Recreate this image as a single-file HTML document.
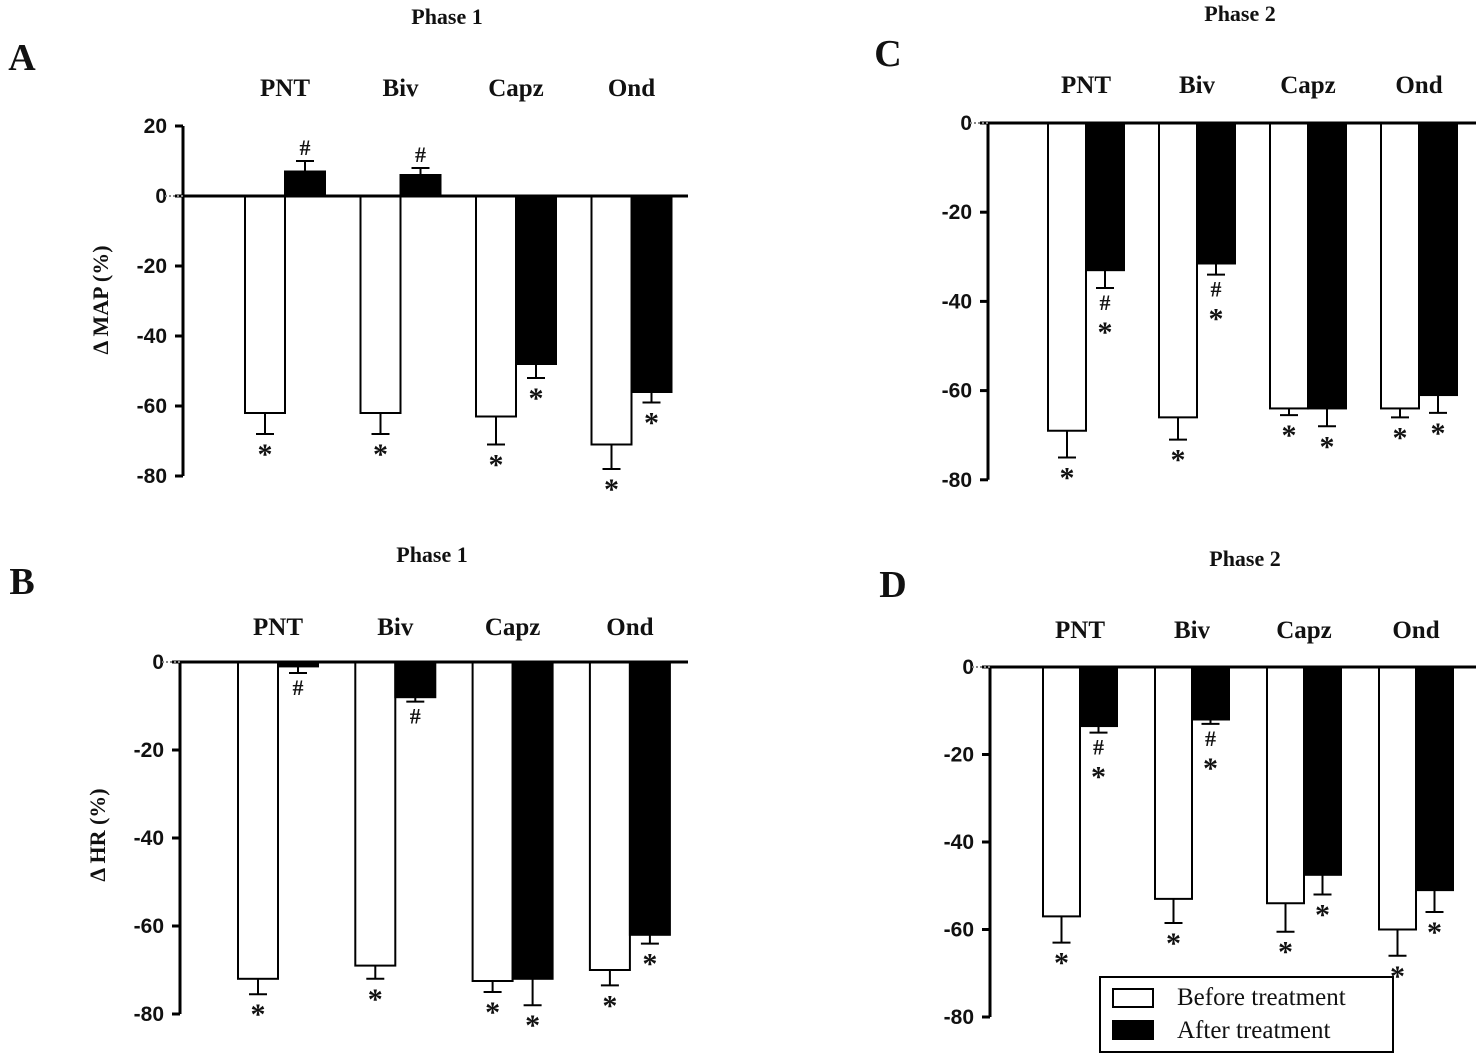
<!DOCTYPE html>
<html><head><meta charset="utf-8"><style>
body{margin:0;background:#fff}
svg{display:block}
text{font-family:"Liberation Serif",serif;font-weight:bold;fill:#111}
.tick{font-family:"Liberation Sans",sans-serif;font-size:21px}
.norm{font-weight:normal}
</style></head><body>
<svg id="c" width="1476" height="1054" viewBox="0 0 1476 1054"></svg>
<script>
const categories=["PNT","Biv","Capz","Ond"];
const yTicksA=[20,0,-20,-40,-60,-80];
const yTicksOther=[0,-20,-40,-60,-80];
const mapP1Before=[-62,-62,-63,-71];
const mapP1BeforeErr=[6,6,8,7];
const mapP1After=[7,6,-48,-56];
const mapP1AfterErr=[3,2,4,3];
const hrP1Before=[-72,-69,-72.5,-70];
const hrP1BeforeErr=[3.5,3,2.5,3.5];
const hrP1After=[-1,-8,-72,-62];
const hrP1AfterErr=[1.5,1,6,2];
const mapP2Before=[-69,-66,-64,-64];
const mapP2BeforeErr=[6,5,1.5,2];
const mapP2After=[-33,-31.5,-64,-61];
const mapP2AfterErr=[4,2.5,4,4];
const hrP2Before=[-57,-53,-54,-60];
const hrP2BeforeErr=[6,5.5,6.5,6];
const hrP2After=[-13.5,-12,-47.5,-51];
const hrP2AfterErr=[1.5,1,4.5,5];
const annP1=[["*","#"],["*","#"],["*","*"],["*","*"]];
const annP2=[["*","#*"],["*","#*"],["*","*"],["*","*"]];

const NS="http://www.w3.org/2000/svg";
const svg=document.getElementById('c');
function el(t,a,p){const e=document.createElementNS(NS,t);for(const k in a)e.setAttribute(k,a[k]);(p||svg).appendChild(e);return e;}
function txt(s,x,y,size,p,anchor){const t=el('text',{x:x,y:y,'font-size':size,'text-anchor':anchor||'middle'},p);t.textContent=s;return t;}

function panel(cfg){
  const g=el('g',{});
  
  
  const y=v=>cfg.y0+(cfg.ymax-v)*cfg.scale;
  const zeroY=y(0);
  const ax=el('line',{x1:cfg.ax,y1:y(cfg.ticks[0]),x2:cfg.ax,y2:y(-80),stroke:'#000','stroke-width':3},g);
  
  cfg.ticks.forEach(v=>{
    el('line',{x1:cfg.ax-8,y1:y(v),x2:cfg.ax,y2:y(v),stroke:'#000','stroke-width':3},g);
    const t=txt(String(v),cfg.ax-16,y(v)+7,21,g,'end');
    t.setAttribute('class','tick');
    
  });
  el('line',{x1:cfg.ax-18,y1:zeroY,x2:cfg.ax,y2:zeroY,stroke:'#888','stroke-width':2,'stroke-dasharray':'2 2'},g);
  categories.forEach((c,i)=>{
    const cx=cfg.x0+i*cfg.step;
    const bw=cfg.bw;
    [[cfg.before,cfg.beforeErr,'#fff',cx-bw,0],[cfg.after,cfg.afterErr,'#000',cx,1]].forEach(([vals,errs,fill,x,k])=>{
      const v=vals[i],e=errs[i];
      const top=Math.min(y(v),zeroY),h=Math.abs(y(v)-zeroY);
      const r=el('rect',{x:x,y:top,width:bw,height:h,fill:fill,stroke:'#000','stroke-width':2},g);
      
      
      const ex=x+bw/2;
      const ev=v<0?v-e:v+e;
      el('line',{x1:ex,y1:y(v),x2:ex,y2:y(ev),stroke:'#000','stroke-width':2},g);
      el('line',{x1:ex-9,y1:y(ev),x2:ex+9,y2:y(ev),stroke:'#000','stroke-width':2},g);
      const a=cfg.ann[i][k];
      if(v>0){
        const t=txt(a,ex,y(ev)-6,22,g);
        
      }else{
        let yy=y(ev)+22;
        for(const ch of a){
          const t=txt(ch,ex,yy+(ch==='*'?8:0),ch==='*'?30:22,g);
          
          yy+=24;
        }
      }
    });
    const lab=txt(c,cx,cfg.catY,25,g);
    
  });
  const zl=el('line',{x1:cfg.ax,y1:zeroY,x2:cfg.zeroEnd,y2:zeroY,stroke:'#000','stroke-width':3},g);
  
  const ti=txt(cfg.title,cfg.titleX,cfg.titleY,22,g);
  
  const L=txt(cfg.letter,cfg.lx,cfg.ly,38,g);
  
  if(cfg.ylabel){
    const yl=txt(cfg.ylabel,0,0,22,g);
    yl.setAttribute('transform','translate('+cfg.ylx+','+cfg.yly+') rotate(-90)');
    yl.setAttribute('fill',cfg.ylcol);
    
  }
}
panel({name:'panel-a',ax:183,y0:126,ymax:20,scale:3.5,ticks:yTicksA,x0:285,step:115.5,bw:40,zeroEnd:688,
  before:mapP1Before,beforeErr:mapP1BeforeErr,after:mapP1After,afterErr:mapP1AfterErr,ann:annP1,
  catY:96,title:'Phase 1',titleX:447,titleY:24,letter:'A',lx:22,ly:70,ylabel:'Δ MAP (%)',ylx:108,yly:300,ylcol:'#5a1e1e'});
panel({name:'panel-b',ax:180,y0:662,ymax:0,scale:4.4,ticks:yTicksOther,x0:278,step:117.3,bw:40,zeroEnd:688,
  before:hrP1Before,beforeErr:hrP1BeforeErr,after:hrP1After,afterErr:hrP1AfterErr,ann:annP1,
  catY:635,title:'Phase 1',titleX:432,titleY:562,letter:'B',lx:22,ly:594,ylabel:'Δ HR (%)',ylx:105,yly:835,ylcol:'#5a1e1e'});
panel({name:'panel-c',ax:988,y0:123,ymax:0,scale:4.46,ticks:yTicksOther,x0:1086,step:111,bw:38,zeroEnd:1476,
  before:mapP2Before,beforeErr:mapP2BeforeErr,after:mapP2After,afterErr:mapP2AfterErr,ann:annP2,
  catY:93,title:'Phase 2',titleX:1240,titleY:21,letter:'C',lx:888,ly:66,ylabel:null});
panel({name:'panel-d',ax:990,y0:667,ymax:0,scale:4.375,ticks:yTicksOther,x0:1080,step:112,bw:37,zeroEnd:1476,
  before:hrP2Before,beforeErr:hrP2BeforeErr,after:hrP2After,afterErr:hrP2AfterErr,ann:annP2,
  catY:638,title:'Phase 2',titleX:1245,titleY:566,letter:'D',lx:893,ly:597,ylabel:null});
const lg=el('g',{});

el('rect',{x:1100,y:977,width:293,height:75,fill:'#fff',stroke:'#000','stroke-width':2},lg);
const r1=el('rect',{x:1113,y:989,width:40,height:18,fill:'#fff',stroke:'#000','stroke-width':2},lg);

const r2=el('rect',{x:1113,y:1021,width:40,height:18,fill:'#000',stroke:'#000','stroke-width':2},lg);

const t1=txt('Before treatment',1177,1005,25,lg,'start');t1.setAttribute('class','norm');

const t2=txt('After treatment',1177,1038,25,lg,'start');t2.setAttribute('class','norm');

</script>
</body></html>
